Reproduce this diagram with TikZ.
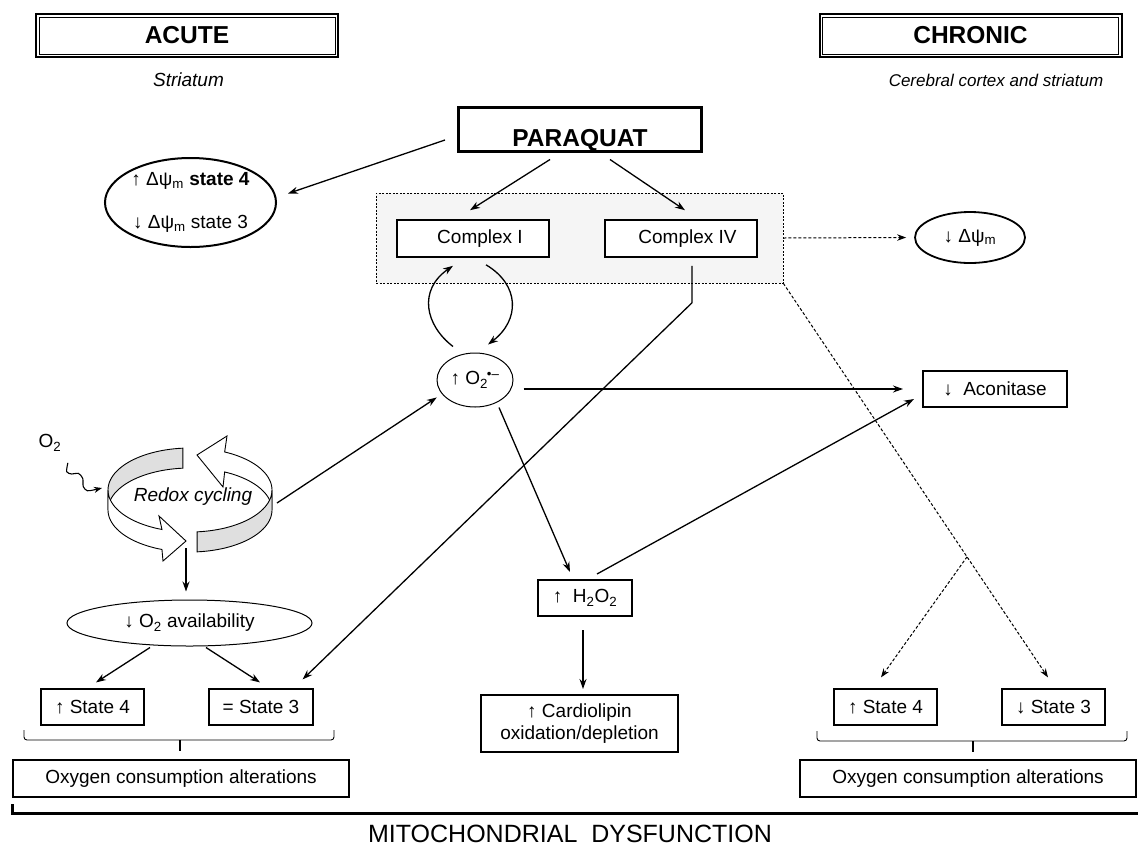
\documentclass[tikz,border=0pt]{standalone}
\usepackage{fontspec}
\setmainfont{Liberation Sans}
\usetikzlibrary{arrows.meta,calc,shapes.geometric}
\begin{document}
\begin{tikzpicture}[x=1pt,y=-1pt,
  txt/.style={font=\fontsize{19}{22.8}\selectfont},
  box/.style={draw, line width=1.2pt, fill=white, inner sep=0pt, txt},
  oval/.style={draw, ellipse, inner sep=0pt, txt},
  arr/.style={line width=1.3pt, -{Stealth[length=10pt,width=7pt]}},
  darr/.style={line width=1pt, dash pattern=on 3pt off 2pt, -{Stealth[length=9pt,width=6.5pt]}},
  hdr/.style={box, line width=2pt, minimum width=302, minimum height=43, font=\bfseries\fontsize{24.5}{28}\selectfont},
  sub/.style={font=\itshape\fontsize{19}{22.8}\selectfont},
  ring/.style={line width=0.9pt}
]
\useasboundingbox (0,0) rectangle (1138,847);

% headers
\node[hdr] (acute) at (187,35.5) {ACUTE};
\draw[line width=0.8pt] ($(acute.north west)+(4,4)$) rectangle ($(acute.south east)+(-4,-4)$);
\node[sub] (acutesub) at (188.5,80) {Striatum};
\node[hdr] (chronic) at (970.5,35.5) {CHRONIC};
\draw[line width=0.8pt] ($(chronic.north west)+(4,4)$) rectangle ($(chronic.south east)+(-4,-4)$);
\node[sub, font=\itshape\fontsize{17}{20}\selectfont] (chronicsub) at (996,80) {Cerebral cortex and striatum};

% paraquat
\node[draw, line width=3pt, minimum width=243, minimum height=44, inner sep=0pt,
      text height=34pt, text depth=0pt, font=\bfseries\fontsize{24.5}{28}\selectfont] (pq) at (580,129) {PARAQUAT};

% gray group
\node[draw, dash pattern=on 2pt off 1.5pt, line width=0.7pt, fill=gray!8,
      minimum width=407, minimum height=90, inner sep=0pt] (grp) at (579.5,238) {};
\node[box, line width=1.6pt, minimum width=152, minimum height=37] (ci) at (473,238.5) {\hspace*{14pt}Complex I};
\node[box, line width=1.6pt, minimum width=152, minimum height=37] (civ) at (681,238.5) {\hspace*{13pt}Complex IV};

% ellipses
\node[oval, line width=2pt, minimum width=171, minimum height=89,
      label={[txt, align=center]center:{↑ Δψ\textsubscript{m} \textbf{state 4}\\[20pt]↓ Δψ\textsubscript{m} state 3}}] (dpsiA) at (190.5,202.5) {};
\node[oval, line width=1.8pt, minimum width=110, minimum height=51] (dpsiC) at (970,237.5) {↓ Δψ\textsubscript{m}};
\node[oval, line width=1pt, minimum width=76, minimum height=54] (o2) at (475,380) {↑ O\textsubscript{2}\kern-1pt\textsuperscript{•–}};
\node[oval, line width=1pt, minimum width=245, minimum height=46] (o2av) at (189.5,623) {↓ O\textsubscript{2} availability};

% boxes
\node[box, line width=2pt, minimum width=144, minimum height=36] (acon) at (995,389) {↓\ \ Aconitase};
\node[box, line width=2pt, minimum width=94, minimum height=36] (h2o2) at (585,598) {↑\ \ H\textsubscript{2}O\textsubscript{2}};
\node[box, line width=2pt, minimum width=197, minimum height=57, align=center] (cardio) at (579.5,723.5) {↑ Cardiolipin\\oxidation/depletion};
\node[box, minimum width=103, minimum height=36] (s4L) at (92.5,707) {↑ State 4};
\node[box, minimum width=104, minimum height=36] (s3L) at (261,707) {= State 3};
\node[box, minimum width=103, minimum height=36] (s4R) at (885.5,707) {↑ State 4};
\node[box, minimum width=103, minimum height=36] (s3R) at (1053.5,707) {↓ State 3};
\node[box, line width=2.5pt, minimum width=336, minimum height=37] (oxL) at (181,778.5) {Oxygen consumption alterations};
\node[box, line width=2.5pt, minimum width=336, minimum height=37] (oxR) at (968,778.5) {Oxygen consumption alterations};

% braces
\draw[line width=0.9pt, rounded corners=3pt] (24,730) -- (24,740) -- (334,740) -- (334,730);
\draw[line width=1.2pt] (180,740) -- (180,751);
\draw[line width=0.9pt, rounded corners=3pt] (817,731) -- (817,741) -- (1127,741) -- (1127,731);
\draw[line width=1.2pt] (973,741) -- (973,752);

% bottom bracket
\draw[line width=3pt] (12,804) -- (12,813) -- (1138,813);
\node[font=\fontsize{25}{29}\selectfont] (mito) at (570,834) {MITOCHONDRIAL\ \ DYSFUNCTION};

% redox cycling graphic
\coordinate (ringW) at (108,490);
\coordinate (ringE) at (272,500);
\coordinate (ringS) at (186,548);
\filldraw[ring, fill=gray!25] plot[domain=95:180,samples=30] ({190+82*cos(\x)},{490-42*sin(\x)})
   -- plot[domain=180:95,samples=30] ({190+82*cos(\x)},{510-42*sin(\x)}) -- cycle;
\filldraw[ring, fill=white] plot[domain=0:65,samples=25] ({190+82*cos(\x)},{490-42*sin(\x)})
   -- (227,436) -- (197,455) -- (223,487)
   -- plot[domain=65:0,samples=25] ({190+82*cos(\x)},{510-42*sin(\x)}) -- cycle;
\filldraw[ring, fill=white] plot[domain=180:250,samples=25] ({190+82*cos(\x)},{490-42*sin(\x)})
   -- (159,516) -- (186,541) -- (163,561)
   -- plot[domain=250:180,samples=25] ({190+82*cos(\x)},{510-42*sin(\x)}) -- cycle;
\filldraw[ring, fill=gray!25] plot[domain=275:360,samples=30] ({190+82*cos(\x)},{490-42*sin(\x)})
   -- plot[domain=360:275,samples=30] ({190+82*cos(\x)},{510-42*sin(\x)}) -- cycle;
\node[sub] (redox) at (193,497) {Redox cycling};
\node[txt] (o2lbl) at (50,443) {O\textsubscript{2}};
\draw[line width=1.1pt, -{Stealth[length=8pt,width=6pt]}] plot[smooth] coordinates
   {($(o2lbl.south east)+(3,8)$) (66.7,471.7) (71.7,474) (78.3,473.3) (82.7,478.3) (83.3,486.7) (87.3,490.7) (93.3,490) ($(ringW)+(-6,-2)$)};

% connectors
\draw[arr] ($(pq.west)+(-12,11)$) -- ($(dpsiA.east)+(11,-9)$);
\draw[arr] ($(pq.south)+(-30,7)$) -- ($(ci.north)+(-3,-9)$);
\draw[arr] ($(pq.south)+(30,7)$) -- ($(civ.north)+(4,-9)$);
\draw[darr] (grp.east) -- ($(dpsiC.west)+(-8,0)$);
\draw[arr] ($(o2.north)+(-22,-6)$) .. controls (425,325) and (418,290) .. ($(ci.south)+(-20,8)$);
\draw[arr] ($(ci.south)+(13,7)$) .. controls (520,285) and (520,320) .. ($(o2.north)+(13,-8)$);
\draw[arr] ($(civ.south)+(11,8)$) -- ($(civ.south)+(11,45)$) -- ($(s3L.north east)+(-11,-9)$);
\coordinate (s3Rtip) at ($(s3R.north)+(-5.5,-11)$);
\coordinate (br) at ($(grp.south east)!0.694!(s3Rtip)$);
\draw[darr] (grp.south east) -- (s3Rtip);
\draw[darr] (br) -- ($(s4R.north)+(-4.5,-11)$);
\draw[arr] ($(o2.east)+(10,9)$) -- ($(acon.west)+(-19,0)$);
\draw[arr] ($(o2.south)+(24,0)$) -- ($(h2o2.north)+(-15,-7)$);
\draw[arr] ($(h2o2.north)+(12,-5)$) -- ($(acon.south west)+(-8,-9)$);
\draw[arr] ($(h2o2.south)+(-2,13)$) -- ($(cardio.north)+(3.5,-5)$);
\draw[arr] ($(ringE)+(5,3)$) -- ($(o2.south west)+(-11,-2)$);
\draw[arr] (ringS) -- ($(o2av.north)+(-3.5,-8)$);
\draw[arr] ($(o2av.south)+(-39.5,1)$) -- ($(s4L.north)+(3.5,-6)$);
\draw[arr] ($(o2av.south)+(16.5,1)$) -- ($(s3L.north)+(-1,-6)$);
\end{tikzpicture}
\end{document}
